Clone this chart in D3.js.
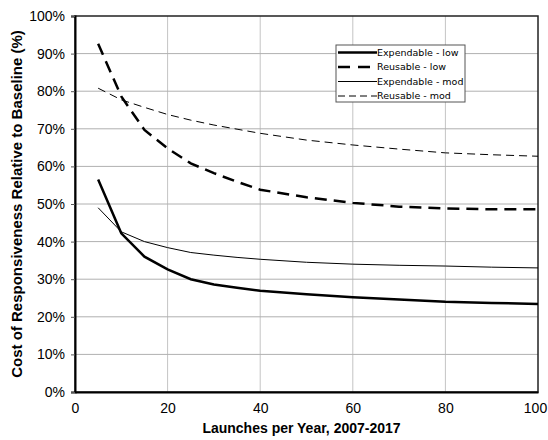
<!DOCTYPE html>
<html>
<head>
<meta charset="utf-8">
<script src="https://cdn.jsdelivr.net/npm/d3@7"></script>
<style>
  body { margin: 0; background: #fff; }
  text { font-family: "Liberation Sans", Arial, sans-serif; }
</style>
</head>
<body>
<div id="chart"></div>
<script>
const launches = [5, 10, 15, 20, 25, 30, 35, 40, 50, 60, 70, 80, 90, 100]
const expendableLow = [56.5, 42.2, 36.0, 32.6, 30.0, 28.6, 27.7, 26.9, 26.0, 25.2, 24.6, 24.0, 23.7, 23.4]
const reusableLow = [92.6, 78.6, 69.7, 64.8, 60.8, 58.2, 55.9, 53.8, 51.8, 50.3, 49.3, 48.8, 48.6, 48.6]
const expendableMod = [49.0, 42.6, 40.0, 38.4, 37.1, 36.4, 35.8, 35.3, 34.5, 34.0, 33.7, 33.5, 33.2, 33.0]
const reusableMod = [80.8, 77.7, 75.7, 73.8, 72.3, 71.0, 69.9, 68.8, 67.0, 65.7, 64.6, 63.6, 63.1, 62.7]
const seriesNames = ["Expendable - low", "Reusable - low", "Expendable - mod", "Reusable - mod"]
const xTicks = [0, 20, 40, 60, 80, 100]
const yTicks = [0, 10, 20, 30, 40, 50, 60, 70, 80, 90, 100]

const w = 548
const h = 440
const margin = { left: 75, right: 10, top: 16, bottom: 48 }

const svg = d3.select("#chart").append("svg")
    .attr("width", w)
    .attr("height", h)

const x = d3.scaleLinear().domain([0, 100]).range([margin.left, w - margin.right])
const y = d3.scaleLinear().domain([0, 100]).range([h - margin.bottom, margin.top])

// grid
svg.append("g").selectAll("line")
    .data(xTicks.slice(1, -1))
    .enter().append("line")
    .attr("x1", d => x(d)).attr("x2", d => x(d))
    .attr("y1", y(0)).attr("y2", y(100))
    .attr("stroke", "#c4c4c4").attr("stroke-width", 1)

svg.append("g").selectAll("line")
    .data(yTicks.slice(1, -1))
    .enter().append("line")
    .attr("y1", d => y(d)).attr("y2", d => y(d))
    .attr("x1", x(0)).attr("x2", x(100))
    .attr("stroke", "#b0b0b0").attr("stroke-width", 1)

// frame
svg.append("rect")
    .attr("x", x(0)).attr("y", y(100))
    .attr("width", x(100) - x(0)).attr("height", y(0) - y(100))
    .attr("fill", "none").attr("stroke", "#222").attr("stroke-width", 1.5)

const xAxis = d3.axisBottom(x).tickValues(xTicks).tickSize(0).tickPadding(11)
const yAxis = d3.axisLeft(y).tickValues(yTicks).tickSize(4).tickPadding(6).tickFormat(d => d + "%")

const gx = svg.append("g")
    .attr("transform", "translate(0," + y(0) + ")")
    .call(xAxis)
gx.select(".domain").attr("stroke", "#000").attr("stroke-width", 2)
gx.selectAll("text").attr("font-size", 14).attr("fill", "#000")
    .style("font-family", "'Liberation Sans', Arial, sans-serif")
// last label sits against the right edge
gx.selectAll(".tick text").filter(d => d == 100).attr("dx", -3)

const gy = svg.append("g")
    .attr("transform", "translate(" + x(0) + ",0)")
    .call(yAxis)
gy.select(".domain").attr("stroke", "#000").attr("stroke-width", 2)
gy.selectAll(".tick line").attr("stroke", "#555")
gy.selectAll("text").attr("font-size", 14).attr("fill", "#000")
    .style("font-family", "'Liberation Sans', Arial, sans-serif")

// titles
svg.append("text")
    .attr("x", (x(0) + x(100)) / 2 - 5)
    .attr("y", 433)
    .attr("text-anchor", "middle")
    .attr("font-size", 14)
    .attr("font-weight", "bold")
    .text("Launches per Year, 2007-2017")

svg.append("text")
    .attr("transform", "translate(22," + ((y(0) + y(100)) / 2) + ") rotate(-90)")
    .attr("text-anchor", "middle")
    .attr("font-size", 15)
    .attr("font-weight", "bold")
    .text("Cost of Responsiveness Relative to Baseline (%)")

// series
const styles = [
    { width: 2.5, dash: null },
    { width: 2.5, dash: "12,7" },
    { width: 1, dash: null },
    { width: 1, dash: "8,5" }
]
const allSeries = [expendableLow, reusableLow, expendableMod, reusableMod]

const line = d3.line()
    .x((d, i) => x(launches[i]))
    .y(d => y(d))

svg.append("g").selectAll("path")
    .data(allSeries)
    .enter().append("path")
    .attr("d", d => line(d))
    .attr("fill", "none")
    .attr("stroke", "#000")
    .attr("stroke-width", (d, i) => styles[i].width)
    .attr("stroke-dasharray", (d, i) => styles[i].dash)

// legend
const legend = svg.append("g").attr("transform", "translate(336,45)")
legend.append("rect")
    .attr("width", 129).attr("height", 57)
    .attr("fill", "#fff").attr("stroke", "#555").attr("stroke-width", 1)

const rows = legend.selectAll("g.row")
    .data(seriesNames)
    .enter().append("g")
    .attr("class", "row")
    .attr("transform", (d, i) => "translate(0," + (7.5 + i * 14.5) + ")")

rows.append("line")
    .attr("x1", 2).attr("x2", 41)
    .attr("stroke", "#000")
    .attr("stroke-width", (d, i) => styles[i].width)
    .attr("stroke-dasharray", (d, i) => i == 1 ? "12,8" : i == 3 ? "7,4" : null)

rows.append("text")
    .attr("x", 41)
    .attr("dy", "0.35em")
    .attr("font-size", 9.5)
    .style("font-family", "'DejaVu Sans', Verdana, sans-serif")
    .text(d => d)
</script>
</body>
</html>
